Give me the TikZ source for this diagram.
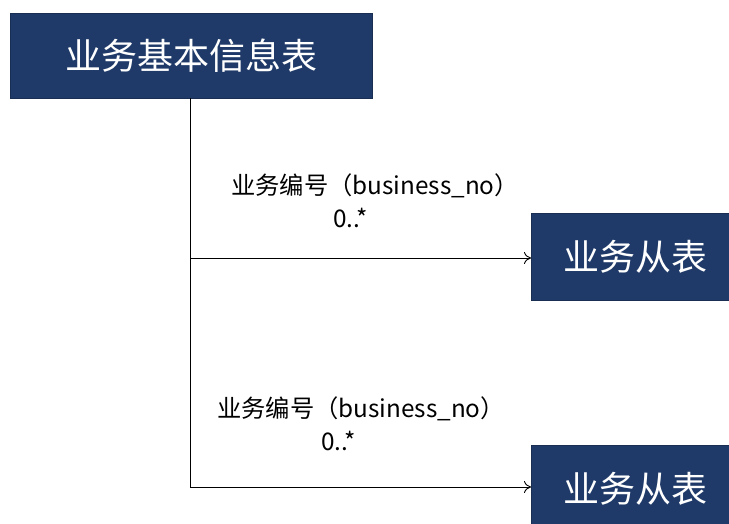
\documentclass[tikz,border=0pt]{standalone}
\usepackage{fontspec}
\setmainfont{Noto Sans CJK SC}
\usetikzlibrary{arrows.meta}
\definecolor{navy}{HTML}{1F3A68}
\begin{document}
\begin{tikzpicture}[x=1pt,y=-1pt,
  tbl/.style={draw=navy!80!black,fill=navy,text=white,inner sep=0pt,anchor=north west},
  lbl/.style={font=\fontsize{24.3}{26}\selectfont,inner sep=0pt,anchor=west},
  conn/.style={draw=black,line width=0.9pt,-{To[length=7pt,width=12pt]}}]
\useasboundingbox (0,0) rectangle (729,523);
\node[tbl,minimum width=362pt,minimum height=85pt,font=\fontsize{36}{38}\selectfont] (main) at (10,13) {业务基本信息表};
\node[tbl,minimum width=198pt,minimum height=87pt,font=\fontsize{36}{38}\selectfont] (sub1) at (531,213) {\hspace*{10pt}业务从表};
\node[tbl,minimum width=198pt,minimum height=87pt,font=\fontsize{36}{38}\selectfont] (sub2) at (531,445) {\hspace*{10pt}\raisebox{-2pt}{业务从表}};
\coordinate (v) at (190,98);
\coordinate (j1) at (190,258);
\coordinate (j2) at (190,487);
\coordinate (e1) at (531,258);
\coordinate (e2) at (531,487);
\draw[line width=0.9pt] (v) -- (j2);
\draw[conn] (j1) -- (e1);
\draw[conn] (j2) -- (e2);
\node[lbl] (l1) at (231,186) {业务编号（business\_no）};
\node[lbl] (m1) at (333,218) {0..*};
\node[lbl] (l2) at (217,409) {业务编号（business\_no）};
\node[lbl] (m2) at (321,441) {0..*};
\end{tikzpicture}
\end{document}
